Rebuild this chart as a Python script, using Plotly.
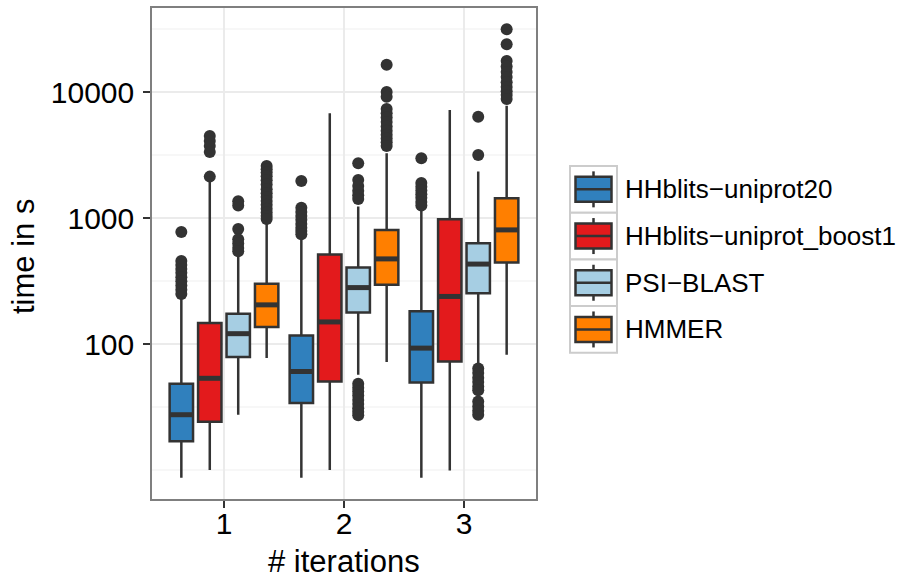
import plotly.graph_objects as go

# ---------------- data ----------------
groups = [1, 2, 3]
group_labels = ["1", "2", "3"]
series = ["HHblits−uniprot20", "HHblits−uniprot_boost1", "PSI−BLAST", "HMMER"]
colors = ["#3080BD", "#E31A1C", "#A6CEE3", "#FF7F00"]

lower = {
    "HHblits−uniprot20": [8.7, 8.7, 8.7],
    "HHblits−uniprot_boost1": [10.0, 10.0, 9.9],
    "PSI−BLAST": [27.5, 57, 70.6],
    "HMMER": [77.4, 72, 82.2],
}
q1 = {
    "HHblits−uniprot20": [16.9, 34.0, 49.6],
    "HHblits−uniprot_boost1": [24.2, 50.5, 72.8],
    "PSI−BLAST": [78.9, 178, 254],
    "HMMER": [136.5, 296, 445],
}
median = {
    "HHblits−uniprot20": [27.5, 60.6, 92.9],
    "HHblits−uniprot_boost1": [53.5, 150, 239],
    "PSI−BLAST": [121, 281, 432],
    "HMMER": [205, 475, 807],
}
q3 = {
    "HHblits−uniprot20": [48.4, 117, 182],
    "HHblits−uniprot_boost1": [147, 514, 982],
    "PSI−BLAST": [174, 405, 633],
    "HMMER": [301, 807, 1442],
}
upper = {
    "HHblits−uniprot20": [240, 690, 1190],
    "HHblits−uniprot_boost1": [2050, 6813, 7240],
    "PSI−BLAST": [500, 1236, 2343],
    "HMMER": [902, 3280, 7800],
}
outliers = {
    "HHblits−uniprot20": [
        [778, 458, 425, 395, 368, 340, 315, 292, 270, 250],
        [1977, 1208, 1120, 1040, 970, 900, 840, 790, 745],
        [2993, 1906, 1780, 1660, 1550, 1450, 1346, 1260],
    ],
    "HHblits−uniprot_boost1": [
        [4500, 4100, 3750, 3360, 2138],
        [],
        [],
    ],
    "PSI−BLAST": [
        [1360, 1260, 822, 680, 630, 580, 545],
        [2734, 2013, 1800, 1650, 1520, 1420, 48.4, 45, 42, 39, 36, 33.5, 31, 29, 27.2],
        [6400, 3180, 64, 59, 54, 50, 46, 43, 35, 32, 29.5, 27.5],
    ],
    "HMMER": [
        [2600, 2450, 2300, 2150, 2000, 1850, 1700, 1580, 1470, 1370, 1280, 1190, 1110, 1040, 985],
        [16520, 10040, 9200, 7370, 6800, 6300, 5800, 5350, 4950, 4600, 4300, 4000, 3750],
        [31620, 24040, 17700, 16000, 14500, 13200, 12000, 11000, 10200, 9500, 8850],
    ],
}
y_ticks = [100, 1000, 10000]
y_tick_labels = ["100", "1000", "10000"]
y_minor = [10, 31.62, 316.2, 3162, 31623]
x_title = "# iterations"
y_title = "time in s"

# ---------------- layout constants ----------------
FONT = "Liberation Sans, Arial, sans-serif"
DARK = "#333333"
SLOT = 0.237      # dodge spacing (x units)
BOX_W = 0.195     # box width (x units)
offsets = [(-1.5 + i) * SLOT for i in range(len(series))]

fig = go.Figure()

for i, s in enumerate(series):
    xs = [g + offsets[i] for g in groups]
    fig.add_trace(go.Box(
        x=xs, q1=q1[s], median=median[s], q3=q3[s],
        lowerfence=lower[s], upperfence=upper[s],
        width=BOX_W, fillcolor=colors[i],
        line=dict(color=DARK, width=2.5),
        whiskerwidth=0, boxpoints=False, name=s, showlegend=False,
        hoverinfo="skip",
    ))
    # thicker median line
    mx, my = [], []
    for x, m in zip(xs, median[s]):
        mx += [x - BOX_W / 2, x + BOX_W / 2, None]
        my += [m, m, None]
    fig.add_trace(go.Scatter(x=mx, y=my, mode="lines",
                             line=dict(color=DARK, width=5),
                             showlegend=False, hoverinfo="skip"))
    # outliers
    ox, oy = [], []
    for x, pts in zip(xs, outliers[s]):
        ox += [x] * len(pts)
        oy += pts
    fig.add_trace(go.Scatter(x=ox, y=oy, mode="markers",
                             marker=dict(color=DARK, size=12, line=dict(width=0)),
                             showlegend=False, hoverinfo="skip"))

# ---------------- manual legend (ggplot style) ----------------
PL, PR, PT, PB = 152, 536, 8, 499
PW, PH = PR - PL, PB - PT


def px(x):
    return (x - PL) / PW


def py(y):
    return (PB - y) / PH


KEY_L, KEY_R = 570, 617
KEY_TOP, KEY_H = 166, 46.7
shapes = []
annotations = []
for i, s in enumerate(series):
    top = KEY_TOP + i * KEY_H
    bot = top + KEY_H
    cy = (top + bot) / 2
    cx = (KEY_L + KEY_R) / 2
    shapes.append(dict(type="rect", xref="paper", yref="paper",
                       x0=px(KEY_L), x1=px(KEY_R), y0=py(bot), y1=py(top),
                       line=dict(color="#CCCCCC", width=2), fillcolor="white",
                       layer="below"))
    shapes.append(dict(type="line", xref="paper", yref="paper",
                       x0=px(cx), x1=px(cx), y0=py(cy + 18), y1=py(cy - 18),
                       line=dict(color=DARK, width=2.5)))
    shapes.append(dict(type="rect", xref="paper", yref="paper",
                       x0=px(KEY_L + 5.5), x1=px(KEY_R - 5.5),
                       y0=py(cy + 12.5), y1=py(cy - 12.5),
                       line=dict(color=DARK, width=2.5), fillcolor=colors[i]))
    shapes.append(dict(type="line", xref="paper", yref="paper",
                       x0=px(KEY_L + 5.5), x1=px(KEY_R - 5.5),
                       y0=py(cy), y1=py(cy),
                       line=dict(color=DARK, width=2.5)))
    annotations.append(dict(text=s, xref="paper", yref="paper",
                            x=px(623), y=py(cy), xanchor="left", yanchor="middle",
                            showarrow=False,
                            font=dict(family=FONT, size=26, color="black")))

# axis titles as annotations for exact placement
annotations.append(dict(text=x_title, xref="paper", yref="paper",
                        x=0.5, y=py(561), xanchor="center", yanchor="middle",
                        showarrow=False,
                        font=dict(family=FONT, size=31, color="black")))
annotations.append(dict(text=y_title, xref="paper", yref="paper",
                        x=px(23), y=py(257), xanchor="center", yanchor="middle",
                        textangle=-90, showarrow=False,
                        font=dict(family=FONT, size=31, color="black")))

fig.update_layout(
    width=898, height=579,
    margin=dict(l=PL, r=898 - PR, t=PT, b=579 - PB, autoexpand=False),
    paper_bgcolor="white", plot_bgcolor="white",
    font=dict(family=FONT, color="black"),
    boxmode="overlay",
    shapes=shapes, annotations=annotations,
    showlegend=False,
)
fig.update_xaxes(
    range=[0.4, 3.6], tickmode="array", tickvals=groups, ticktext=group_labels,
    showgrid=True, gridcolor="#EBEBEB", gridwidth=1.5, zeroline=False,
    showline=True, mirror=True, linecolor="#7F7F7F", linewidth=1.5,
    ticks="outside", ticklen=7, tickwidth=2, tickcolor=DARK,
    ticklabelstandoff=-10, automargin=False,
    tickfont=dict(size=30, color="black", family=FONT),
)
fig.update_yaxes(
    type="log", range=[0.770, 4.669], tickmode="array",
    tickvals=y_ticks, ticktext=y_tick_labels,
    showgrid=True, gridcolor="#EBEBEB", gridwidth=1.8, zeroline=False,
    showline=True, mirror=True, linecolor="#7F7F7F", linewidth=1.5,
    ticks="outside", ticklen=7, tickwidth=2, tickcolor=DARK,
    ticklabelstandoff=3, automargin=False,
    tickfont=dict(size=30, color="black", family=FONT),
    minor=dict(tickmode="array", tickvals=y_minor, showgrid=True,
               gridcolor="#F7F7F7", gridwidth=1.5, ticks=""),
)

fig.write_html("out.html", config={"displayModeBar": False},
               post_script="document.body.style.margin='0px';")
